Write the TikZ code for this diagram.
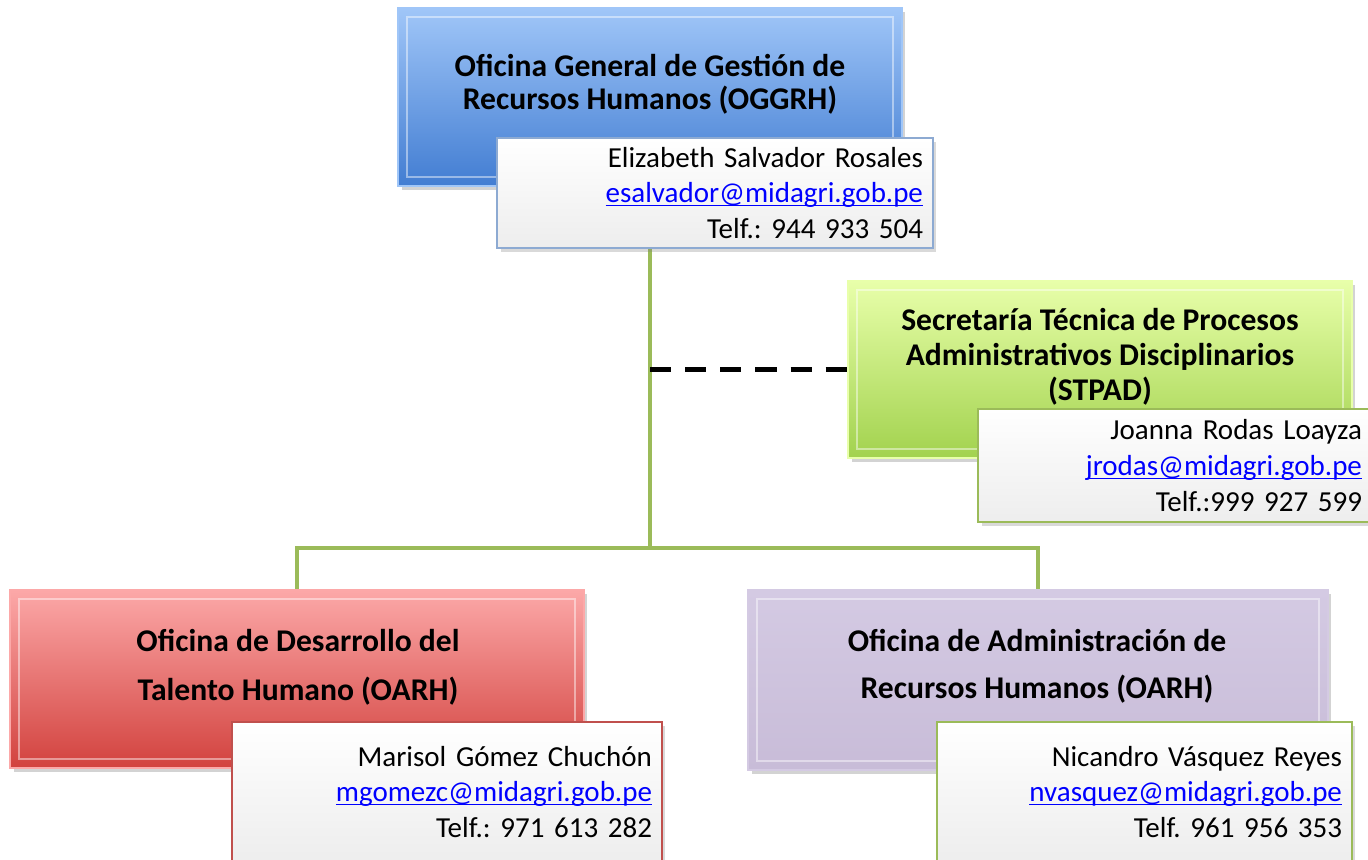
\documentclass[tikz,border=0pt]{standalone}
\usepackage{fontspec}
\setmainfont{Carlito}
\usetikzlibrary{shadows}
\pgfdeclarelayer{bg}
\pgfsetlayers{bg,main}
\frenchspacing
\definecolor{linkblue}{RGB}{0,0,255}
\definecolor{trunkgreen}{RGB}{155,187,89}
\definecolor{bluetop}{RGB}{160,198,248}
\definecolor{bluebot}{RGB}{66,125,210}
\definecolor{greentop}{RGB}{232,255,170}
\definecolor{greenbot}{RGB}{162,210,78}
\definecolor{redtop}{RGB}{252,168,168}
\definecolor{redbot}{RGB}{210,66,62}
\definecolor{purtop}{RGB}{212,202,227}
\definecolor{purbot}{RGB}{200,188,216}
\definecolor{bluecard}{RGB}{141,170,210}
\definecolor{redcard}{RGB}{192,80,77}
\newcommand{\mail}[1]{\textcolor{linkblue}{\underline{\smash{#1}}}}
\tikzset{
	unit/.style={
		rectangle,
		line width=1pt,
		drop shadow={opacity=0.35, shadow xshift=2pt, shadow yshift=-2pt},
		path picture={
			\draw[white, opacity=0.45, line width=1.2pt]
				([shift={(5pt,-5pt)}]path picture bounding box.north west) rectangle
				([shift={(-5pt,5pt)}]path picture bounding box.south east);
		}
	},
	ttl/.style={
		font=\bfseries\fontsize{18}{18.7}\selectfont,
		align=center
	},
	card/.style={
		rectangle,
		draw=#1,
		line width=1.2pt,
		top color=white,
		bottom color=black!7,
		align=right,
		inner xsep=0.2cm,
		font=\fontsize{16.5}{20.4}\selectfont,
		drop shadow={opacity=0.3, shadow xshift=2pt, shadow yshift=-2pt}
	},
	trunk/.style={draw=trunkgreen, line width=2.4pt},
	dashlink/.style={draw=black, line width=2.4pt, dash pattern=on 12pt off 8pt}
}
\begin{document}
\begin{tikzpicture}[x=0.02cm, y=0.02cm]
\useasboundingbox (0,0) rectangle (1368,-859);

\node[unit, top color=bluetop, bottom color=bluebot, draw=bluetop, minimum width=10.08cm, minimum height=3.56cm] (oggrh) at (650,-97) {};
\node[ttl] (oggrhT) at (650,-84) {Oficina General de Gestión de\\Recursos Humanos (OGGRH)};
\node[card=bluecard, text width=8.32cm, minimum height=2.2cm] (oggrhC) at (715,-193) {Elizabeth Salvador Rosales\\\mail{esalvador@midagri.gob.pe}\\Telf.: 944 933 504};

\node[unit, top color=greentop, bottom color=greenbot, draw=greentop, minimum width=10.08cm, minimum height=3.54cm] (stpad) at (1100,-369.5) {};
\node[ttl, font=\bfseries\fontsize{18}{19.8}\selectfont] (stpadT) at (1100,-357) {Secretaría Técnica de Procesos\\Administrativos Disciplinarios\\(STPAD)};
\node[card=trunkgreen, text width=7.48cm, minimum height=2.26cm] (stpadC) at (1175,-465.5) {Joanna Rodas Loayza\\\mail{jrodas@midagri.gob.pe}\\Telf.:999 927 599};

\node[unit, top color=redtop, bottom color=redbot, draw=redtop, minimum width=11.48cm, minimum height=3.56cm] (odth) at (297,-679) {};
\node[ttl, font=\bfseries\fontsize{18}{27.8}\selectfont] (odthT) at (298,-667.5) {Oficina de Desarrollo del\\Talento Humano (OARH)};
\node[card=redcard, text width=8.2cm, minimum height=2.8cm] (odthC) at (447,-792) {Marisol Gómez Chuchón\\\mail{mgomezc@midagri.gob.pe}\\Telf.: 971 613 282};

\node[unit, top color=purtop, bottom color=purbot, draw=purtop, minimum width=11.6cm, minimum height=3.6cm] (oarh) at (1038,-680) {};
\node[ttl, font=\bfseries\fontsize{18}{26.6}\selectfont] (oarhT) at (1037,-666.5) {Oficina de Administración de\\Recursos Humanos (OARH)};
\node[card=trunkgreen, text width=7.9cm, minimum height=2.8cm] (oarhC) at (1144.5,-792) {Nicandro Vásquez Reyes\\\mail{nvasquez@midagri.gob.pe}\\Telf. 961 956 353};

\coordinate (hub) at (650,-548);
\begin{pgfonlayer}{bg}
\draw[trunk] (oggrh) -- (hub);
\draw[trunk] (hub) -| (odth);
\draw[trunk] (hub) -| (oarh);
\draw[dashlink] (oggrh |- stpad) -- (stpad);
\end{pgfonlayer}
\end{tikzpicture}
\end{document}
